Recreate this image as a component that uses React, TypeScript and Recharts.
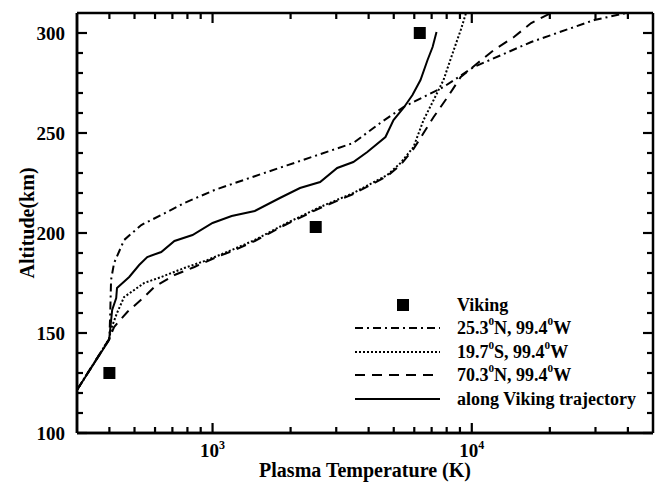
import React from "react";
import { ComposedChart, Line, Scatter, XAxis, YAxis, Legend } from "recharts";

// Temperature (K) / altitude (km) pairs
const vikingT = [400, 2500, 6300];
const vikingAlt = [130, 203, 300];

const n25T = [300, 400, 403, 406, 417, 456, 531, 634, 778, 1018, 1455, 1936, 3491, 4436, 5450, 7778, 10180, 16950, 29700, 39500];
const n25Alt = [121.5, 147, 160, 176.5, 185, 196.5, 204, 209, 215, 221.5, 228.4, 233.8, 245, 255, 263, 273, 283, 295.5, 306.5, 310];

const s19T = [300, 399, 406, 428, 456, 545, 634, 778, 956, 1185, 1455, 1936, 2600, 3491, 4722, 5310, 5960, 6515, 7125, 7778, 8440, 9065, 9500];
const s19Alt = [121.5, 147, 152, 160, 168, 175, 178, 182.5, 186.5, 191.5, 196.5, 205, 213, 220, 229, 235, 243, 256.5, 266.5, 276.5, 290, 301.5, 310];

const n70T = [300, 399, 417, 469, 545, 596, 713, 851, 1018, 1217, 1455, 1936, 2600, 3491, 4722, 5310, 5960, 6515, 7125, 8070, 9065, 10540, 12160, 14540, 16950, 20230];
const n70Alt = [121.5, 147, 153, 160.5, 168, 173, 179, 183, 187.5, 191.5, 196, 204.5, 212.5, 219.5, 228.5, 234, 242, 250, 258, 268, 278, 285, 291.5, 298, 305, 310];

const trajT = [300, 399, 410, 425, 428, 477, 521, 560, 634, 713, 837, 1000, 1185, 1455, 1818, 2174, 2600, 3026, 3491, 3953, 4645, 4989, 5450, 5904, 6340, 6750, 7060, 7310];
const trajAlt = [121.5, 146.5, 161.5, 167.5, 172.5, 178, 184, 188, 190.5, 196, 199, 205, 208.5, 211, 217.5, 222.5, 225.5, 232.5, 235.5, 240.5, 248, 256.5, 262.5, 269, 276.5, 286.5, 293, 300.5];

const xTicks = [400, 500, 600, 700, 800, 900, 1000, 2000, 3000, 4000, 5000, 6000, 7000, 8000, 9000, 10000, 20000, 30000, 40000];
const yTicks = [100, 110, 120, 130, 140, 150, 160, 170, 180, 190, 200, 210, 220, 230, 240, 250, 260, 270, 280, 290, 300];

const zip = (t: number[], a: number[]) => t.map((v, i) => ({ t: v, alt: a[i] }));

const font = '"Liberation Serif", "Times New Roman", serif';
const W = 655;
const H = 483;
const margin = { top: 12, right: 1, bottom: 0, left: 0 };

const lines = [
  { name: "25.3⁰N, 99.4⁰W", data: zip(n25T, n25Alt), dash: "8 4 2 4" },
  { name: "19.7⁰S, 99.4⁰W", data: zip(s19T, s19Alt), dash: "2 2" },
  { name: "70.3⁰N, 99.4⁰W", data: zip(n70T, n70Alt), dash: "10 7" },
  { name: "along Viking trajectory", data: zip(trajT, trajAlt), dash: undefined },
];

const isDecade = (v: number) => Math.abs(Math.log10(v) - Math.round(Math.log10(v))) < 1e-9;
const isMajorY = (v: number) => v % 50 === 0;

const sup = (s: string, size: number) =>
  s.split("⁰").flatMap((part, i) =>
    i === 0
      ? [part]
      : [
          <tspan key={"s" + i} dy={-7} fontSize={size * 0.62}>0</tspan>,
          <tspan key={"p" + i} dy={7} fontSize={size}>{part}</tspan>,
        ]
  );

const BottomLabel = (props: any) => {
  const { x, y, payload } = props;
  if (!isDecade(payload.value)) return <g />;
  return (
    <text x={x} y={y + 24} textAnchor="middle" fontFamily={font} fontWeight="bold" fontSize={19} fill="#000">
      10<tspan dy={-8} fontSize={12}>{Math.round(Math.log10(payload.value))}</tspan>
    </text>
  );
};

const LeftLabel = (props: any) => {
  const { x, y, payload } = props;
  if (!isMajorY(payload.value)) return <g />;
  return (
    <text x={x - 12} y={y} textAnchor="end" dominantBaseline="central" fontFamily={font} fontWeight="bold" fontSize={19} fill="#000">
      {payload.value}
    </text>
  );
};

// inward tick marks, drawn on the overlay chart
const ts = { stroke: "#000", strokeWidth: 2.2 };
const BottomTick = (p: any) => <path d={`M${p.x},${p.y}V${p.y - (isDecade(p.payload.value) ? 10 : 6)}`} {...ts} />;
const TopTick = (p: any) => <path d={`M${p.x},${p.y}V${p.y + (isDecade(p.payload.value) ? 10 : 6)}`} {...ts} />;
const LeftTick = (p: any) => <path d={`M${p.x},${p.y}H${p.x + (isMajorY(p.payload.value) ? 10 : 6)}`} {...ts} />;
const RightTick = (p: any) => <path d={`M${p.x},${p.y}H${p.x - (isMajorY(p.payload.value) ? 10 : 6)}`} {...ts} />;

const VikingSquare = (props: any) => {
  const { cx, cy } = props;
  return <rect x={cx - 6} y={cy - 6} width={12} height={12} fill="#000" />;
};

const LegendBox = () => {
  const rowY = [13, 36, 60, 83, 107];
  return (
    <svg width={300} height={120} style={{ overflow: "visible" }}>
      <rect x={47} y={rowY[0] - 6} width={12} height={12} fill="#000" />
      <text x={107} y={rowY[0]} dominantBaseline="central" fontFamily={font} fontWeight="bold" fontSize={18}>Viking</text>
      {lines.map((l, i) => (
        <g key={l.name}>
          <line x1={5} x2={90} y1={rowY[i + 1]} y2={rowY[i + 1]} stroke="#000" strokeWidth={2} strokeDasharray={l.dash} />
          <text x={107} y={rowY[i + 1]} dominantBaseline="central" fontFamily={font} fontWeight="bold" fontSize={18}>
            {sup(l.name, 18)}
          </text>
        </g>
      ))}
    </svg>
  );
};

const axisLine = { stroke: "#000", strokeWidth: 2.5 };

export default function App() {
  return (
    <div style={{ position: "absolute", left: 0, top: 0, width: W, height: H }}>
      <div style={{ position: "absolute", left: 0, top: 0, zIndex: 1 }}>
        <ComposedChart width={W} height={H} margin={margin}>
          <XAxis
            dataKey="t"
            type="number"
            scale="log"
            domain={[300, 50000]}
            allowDataOverflow
            ticks={xTicks}
            interval={0}
            height={50}
            tickSize={0}
            tickMargin={0}
            tickLine={false}
            axisLine={axisLine}
            tick={BottomLabel}
            label={{
              content: ({ viewBox }: any) => (
                <text x={viewBox.x + viewBox.width / 2} y={viewBox.y + 44} textAnchor="middle" fontFamily={font} fontWeight="bold" fontSize={20}>
                  Plasma Temperature (K)
                </text>
              ),
            }}
          />
          <YAxis
            dataKey="alt"
            type="number"
            domain={[100, 310]}
            allowDataOverflow
            ticks={yTicks}
            interval={0}
            width={77}
            tickSize={0}
            tickMargin={0}
            tickLine={false}
            axisLine={axisLine}
            tick={LeftLabel}
            label={{
              content: ({ viewBox }: any) => {
                const cx = viewBox.x + 27;
                const cy = viewBox.y + viewBox.height / 2;
                return (
                  <text x={cx} y={cy} transform={`rotate(-90 ${cx} ${cy})`} textAnchor="middle" dominantBaseline="central" fontFamily={font} fontWeight="bold" fontSize={20}>
                    Altitude(km)
                  </text>
                );
              },
            }}
          />
          <XAxis xAxisId="top" orientation="top" dataKey="t" type="number" scale="log" domain={[300, 50000]} allowDataOverflow height={1} tick={false} tickLine={false} axisLine={false} />
          <YAxis yAxisId="right" orientation="right" dataKey="alt" type="number" domain={[100, 310]} allowDataOverflow width={1} tick={false} tickLine={false} axisLine={false} />
          <Scatter name="Viking" data={zip(vikingT, vikingAlt)} dataKey="alt" fill="#000" shape={VikingSquare} isAnimationActive={false} />
          {lines.map((l) => (
            <Line
              key={l.name}
              name={l.name}
              data={l.data}
              dataKey="alt"
              type="linear"
              stroke="#000"
              strokeWidth={2}
              strokeDasharray={l.dash}
              dot={false}
              activeDot={false}
              isAnimationActive={false}
            />
          ))}
          <Legend
            layout="vertical"
            align="center"
            verticalAlign="middle"
            content={LegendBox}
            wrapperStyle={{ left: 350, top: 292, width: 300, height: 120 }}
          />
        </ComposedChart>
      </div>
      <div style={{ position: "absolute", left: 0, top: 0, zIndex: 2, pointerEvents: "none" }}>
        <ComposedChart width={W} height={H} margin={margin}>
          <XAxis dataKey="t" type="number" scale="log" domain={[300, 50000]} allowDataOverflow ticks={xTicks} interval={0} height={50} tickSize={0} tickMargin={0} tickLine={false} axisLine={axisLine} tick={BottomTick} />
          <XAxis xAxisId="top" orientation="top" dataKey="t" type="number" scale="log" domain={[300, 50000]} allowDataOverflow ticks={xTicks} interval={0} height={1} tickSize={0} tickMargin={0} tickLine={false} axisLine={axisLine} tick={TopTick} />
          <YAxis dataKey="alt" type="number" domain={[100, 310]} allowDataOverflow ticks={yTicks} interval={0} width={77} tickSize={0} tickMargin={0} tickLine={false} axisLine={axisLine} tick={LeftTick} />
          <YAxis yAxisId="right" orientation="right" dataKey="alt" type="number" domain={[100, 310]} allowDataOverflow ticks={yTicks} interval={0} width={1} tickSize={0} tickMargin={0} tickLine={false} axisLine={axisLine} tick={RightTick} />
          <Line data={zip(trajT, trajAlt)} dataKey="alt" stroke="#000" strokeOpacity={0} dot={false} isAnimationActive={false} />
        </ComposedChart>
      </div>
    </div>
  );
}
